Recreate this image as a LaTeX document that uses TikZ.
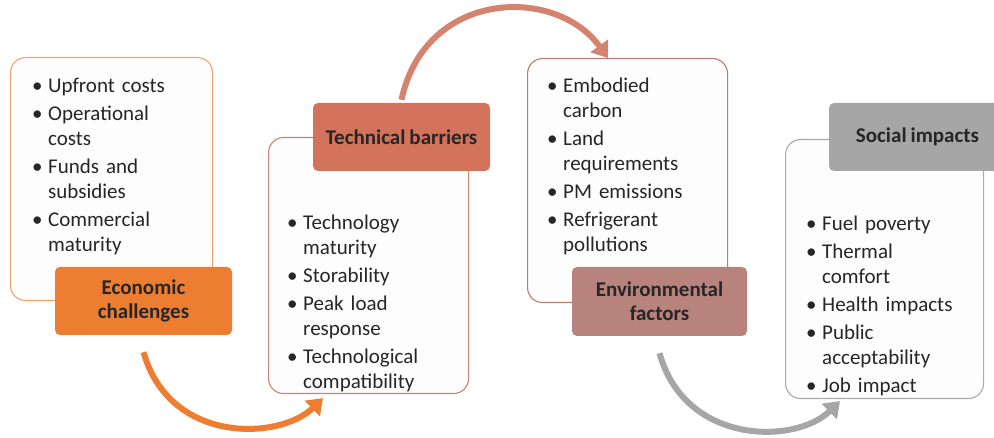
\documentclass[tikz,border=0pt]{standalone}
\usepackage{fontspec}
\setmainfont[WordSpace=0.85]{Carlito}
\usetikzlibrary{arrows.meta}
\definecolor{econ}{HTML}{ED7D31}
\definecolor{econline}{HTML}{F2A36B}
\definecolor{tech}{HTML}{D4735B}
\definecolor{techline}{HTML}{C98574}
\definecolor{techarrow}{HTML}{D4846E}
\definecolor{env}{HTML}{B8837C}
\definecolor{envline}{HTML}{B47E78}
\definecolor{soc}{HTML}{A6A6A6}
\definecolor{socline}{HTML}{A9A9A9}
\definecolor{txt}{HTML}{262626}
\definecolor{boxfill}{HTML}{FDFDFD}
\newcommand{\bu}{\makebox[16pt][l]{\textbullet}}
\newcommand{\ct}{\hspace*{16pt}}
\tikzset{
  cbox/.style={draw, line width=1.1pt, rounded corners=15pt, fill=boxfill, inner sep=0pt, anchor=north west},
  lbox/.style={rounded corners=5pt, inner sep=0pt, minimum width=177pt, minimum height=68pt, align=center,
    font=\bfseries\fontsize{21}{24}\selectfont, text=txt},
  blist/.style={anchor=base west, inner sep=0pt, text width=190pt, align=left,
    font=\fontsize{21}{25}\selectfont, text=txt},
  flow/.style={line width=6pt, -{Triangle[length=15pt,width=21pt]}}
}
\begin{document}
\begin{tikzpicture}[x=1pt,y=-1pt]
\clip (0,0) rectangle (994,438);
\fill[white] (0,0) rectangle (994,438);
% content boxes
\node[cbox, draw=econline, minimum width=202pt, minimum height=243pt] (b1) at (10,57) {};
\node[cbox, draw=techline, minimum width=200pt, minimum height=256pt] (b2) at (268,137) {};
\node[cbox, draw=envline, minimum width=200pt, minimum height=244pt] (b3) at (527,58) {};
\node[cbox, draw=socline, minimum width=198pt, minimum height=259pt] (b4) at (785,139) {};
% labels
\node[lbox, fill=econ] (l1) at (143.5,301) {Economic\\challenges};
\node[lbox, fill=tech] (l2) at (401.5,137) {Technical barriers};
\node[lbox, fill=env, minimum width=175pt, minimum height=69pt] (l3) at (659.5,301.5) {Environmental\\factors};
\node[lbox, fill=soc] (l4) at (917.5,137) {Social impacts};
% lists
\node[blist] (t1) at (32,93) {\bu Upfront costs\\[3pt]
\bu Operational\\ \ct costs\\[3pt]
\bu Funds and\\ \ct subsidies\\[3pt]
\bu Commercial\\ \ct maturity};
\node[blist] (t2) at (287,230) {\bu Technology\\ \ct maturity\\[3pt]
\bu Storability\\[3pt]
\bu Peak load\\ \ct response\\[3pt]
\bu Technological\\ \ct compatibility};
\node[blist] (t3) at (547,93) {\bu Embodied\\ \ct carbon\\[3pt]
\bu Land\\ \ct requirements\\[3pt]
\bu PM emissions\\[3pt]
\bu Refrigerant\\ \ct pollutions};
\node[blist] (t4) at (806,231) {\bu Fuel poverty\\[3pt]
\bu Thermal\\ \ct comfort\\[3pt]
\bu Health impacts\\[3pt]
\bu Public\\ \ct acceptability\\[3pt]
\bu Job impact};
% arrows
\draw[flow, draw=econ] ([yshift=-17pt]l1.south) .. controls (170,445) and (280,440) .. ([xshift=55pt,yshift=-4pt]b2.south west);
\draw[flow, draw=techarrow] ([yshift=3pt]l2.north) .. controls (425,-10) and (555,-15) .. ([xshift=81pt,yshift=0pt]b3.north west);
\draw[flow, draw=soc] ([yshift=-17pt]l3.south) .. controls (685,445) and (795,445) .. ([xshift=55pt,yshift=-2pt]b4.south west);
\end{tikzpicture}
\end{document}
